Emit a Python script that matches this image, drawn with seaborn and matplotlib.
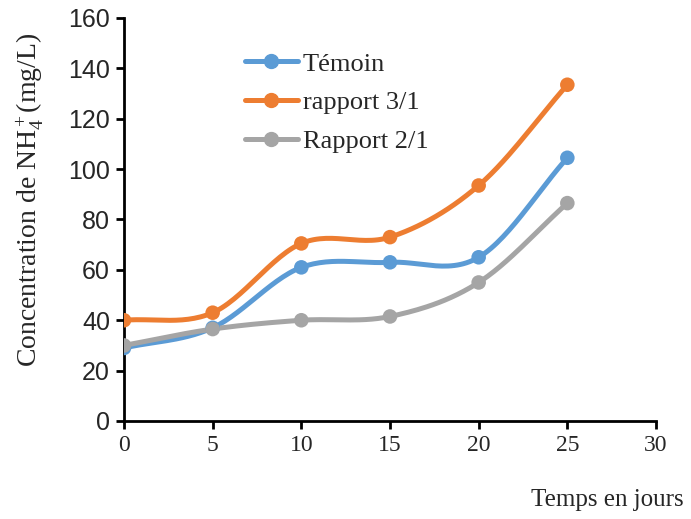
import numpy as np
import pandas as pd
import matplotlib
matplotlib.use("Agg")
import matplotlib.pyplot as plt
import seaborn as sns
from matplotlib.lines import Line2D

days = [0, 5, 10, 15, 20, 25]
temoin = [29, 37, 61, 63, 65, 104.5]
rapport_31 = [40, 43, 70.5, 73, 93.5, 133.5]
rapport_21 = [30, 36.5, 40, 41.5, 55, 86.5]
series_names = ["Témoin", "rapport 3/1", "Rapport 2/1"]
colors = ["#5B9BD5", "#ED7D31", "#A5A5A5"]
x_ticks = [0, 5, 10, 15, 20, 25, 30]
y_ticks = [0, 20, 40, 60, 80, 100, 120, 140, 160]

sns.set_theme(style="white")
plt.rcParams["mathtext.fontset"] = "custom"
plt.rcParams["mathtext.rm"] = "Liberation Serif"
plt.rcParams["mathtext.it"] = "Liberation Serif:italic"


def smooth(xs, ys, n=30):
    # Catmull-Rom style smoothing of the drawn line (like Excel's smoothed line)
    xs = np.asarray(xs, float)
    ys = np.asarray(ys, float)
    px = np.concatenate([[2 * xs[0] - xs[1]], xs, [2 * xs[-1] - xs[-2]]])
    py = np.concatenate([[2 * ys[0] - ys[1]], ys, [2 * ys[-1] - ys[-2]]])
    ox, oy = [], []
    for i in range(1, len(px) - 2):
        p0, p1, p2, p3 = [np.array([px[j], py[j]]) for j in (i - 1, i, i + 1, i + 2)]
        c1 = p1 + (p2 - p0) / 6
        c2 = p2 - (p3 - p1) / 6
        t = np.linspace(0, 1, n)[:, None]
        b = (1 - t) ** 3 * p1 + 3 * (1 - t) ** 2 * t * c1 + 3 * (1 - t) * t ** 2 * c2 + t ** 3 * p2
        ox.extend(b[:, 0]); oy.extend(b[:, 1])
    return np.array(ox), np.array(oy)


fig = plt.figure(figsize=(6.91, 5.19), dpi=100)
ax = fig.add_axes([124 / 691, 1 - 421 / 519, 532 / 691, 403 / 519])

handles = []
for name, vals, c in zip(series_names, [temoin, rapport_31, rapport_21], colors):
    sx, sy = smooth(days, vals)
    sns.lineplot(x=sx, y=sy, ax=ax, color=c, lw=3.6, sort=False, estimator=None)
    sns.scatterplot(x=days, y=vals, ax=ax, color=c, s=110, edgecolor="none", zorder=5)
    handles.append(Line2D([0], [0], color=c, lw=3.6, marker="o", markersize=10))

ax.set_xlim(0, 30)
ax.set_ylim(0, 160)
ax.set_xticks(x_ticks)
ax.set_yticks(y_ticks)
ax.set_xticklabels([str(v) for v in x_ticks], fontfamily="Liberation Serif", fontsize=17)
ax.set_yticklabels([str(v) for v in y_ticks], fontfamily="Liberation Sans", fontsize=18)
for s in ["top", "right"]:
    ax.spines[s].set_visible(False)
for s in ["left", "bottom"]:
    ax.spines[s].set_color("black")
    ax.spines[s].set_linewidth(2)
ax.tick_params(axis="both", direction="out", length=6, width=2, color="black", left=True, bottom=True, pad=4)
ax.set_xlabel("")
ax.set_ylabel("")

fig.text(607 / 691, 1 - 500 / 519, "Temps en jours", ha="center", va="center",
         fontfamily="Liberation Serif", fontsize=18)
fig.text(30 / 691, 1 - 200 / 519, "Concentration de NH$_4^+$(mg/L)", ha="center", va="center",
         rotation=90, fontfamily="Liberation Serif", fontsize=20)

leg = ax.legend(handles, series_names, loc="upper left", bbox_to_anchor=(0.227, 0.915),
                frameon=False, prop={"family": "Liberation Serif", "size": 19},
                handlelength=2.0, handletextpad=0.2, labelspacing=0.57, borderpad=0, borderaxespad=0)

fig.savefig("out.png", dpi=100)
